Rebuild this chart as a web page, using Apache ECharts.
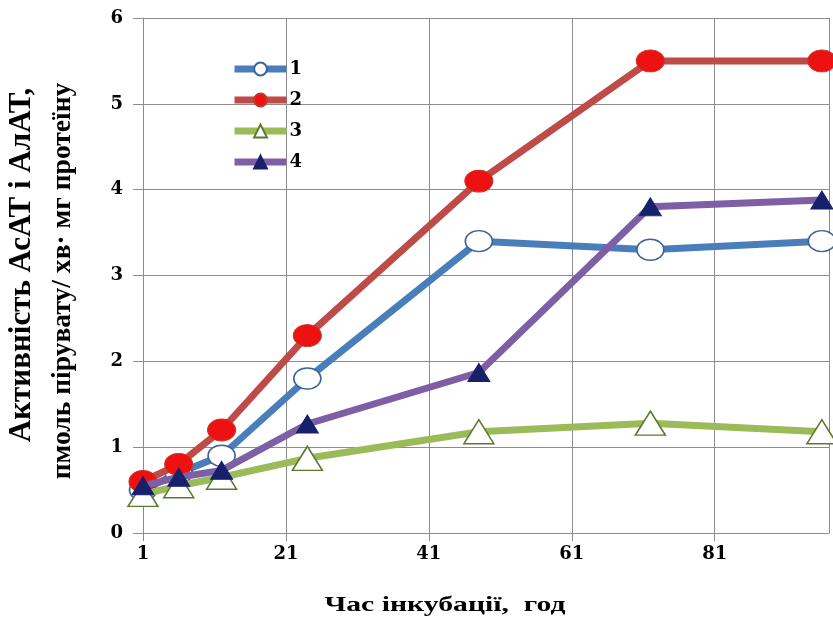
<!DOCTYPE html>
<html>
<head>
<meta charset="utf-8">
<script src="https://cdn.jsdelivr.net/npm/echarts@6/dist/echarts.min.js"></script>
<style>html,body{margin:0;padding:0;background:#fff;}#c{width:833px;height:619px;}</style>
</head>
<body>
<div id="c"></div>
<script>
var hours = [1, 6, 12, 24, 48, 72, 96];
var series1 = [0.5, 0.7, 0.9, 1.8, 3.4, 3.3, 3.4];
var series2 = [0.6, 0.8, 1.2, 2.3, 4.1, 5.5, 5.5];
var series3 = [0.45, 0.55, 0.65, 0.87, 1.18, 1.28, 1.18];
var series4 = [0.55, 0.65, 0.73, 1.27, 1.87, 3.8, 3.88];
var seriesNames = ['1', '2', '3', '4'];
var xTitle = 'Час інкубації,  год';
var yTitle1 = 'Активність АсАТ і АлАТ,';
var yTitle2 = 'пмоль пірувату/ хв· мг протеїну';

function pairs(ys) { return hours.map(function (h, i) { return [h, ys[i]]; }); }

var chart = echarts.init(document.getElementById('c'), null, {renderer: 'canvas'});
var serif = "'DejaVu Serif', 'Liberation Serif', serif";
var grid = '#8c8c8c';

chart.setOption({
  animation: false,
  backgroundColor: '#fff',
  grid: {left: 143, right: 4, top: 18, bottom: 86},
  legend: {
    orient: 'vertical', left: 231, top: 60, padding: 0,
    itemWidth: 52, itemHeight: 16, itemGap: 13,
    textStyle: {fontFamily: serif, fontWeight: 'bold', fontSize: 18, color: '#000', padding: [0, 0, 0, -2]},
    lineStyle: {width: 7},
    data: seriesNames
  },
  xAxis: {
    type: 'value', min: 1, max: 97, interval: 20,
    axisLine: {show: true, lineStyle: {color: grid, width: 1}},
    axisTick: {show: true, length: 8, lineStyle: {color: grid}},
    splitLine: {show: true, lineStyle: {color: grid, width: 1}},
    axisLabel: {showMaxLabel: false, margin: 12, fontFamily: serif, fontWeight: 'bold', fontSize: 18, color: '#000'}
  },
  yAxis: {
    type: 'value', min: 0, max: 6, interval: 1,
    axisLine: {show: true, lineStyle: {color: grid, width: 1}},
    axisTick: {show: true, length: 10, lineStyle: {color: grid}},
    splitLine: {show: true, lineStyle: {color: grid, width: 1}},
    axisLabel: {margin: 20, fontFamily: serif, fontWeight: 'bold', fontSize: 18, color: '#000'}
  },
  graphic: [
    {type: 'text', x: 445, y: 605, scaleX: 1.35, silent: true,
     style: {text: xTitle, font: "bold 22px 'Liberation Serif'", fill: '#000', align: 'center', verticalAlign: 'middle'}},
    {type: 'text', x: 22, y: 265, rotation: Math.PI / 2, scaleX: 1.0, silent: true,
     style: {text: yTitle1, font: "bold 31px 'Liberation Serif'", fill: '#000', align: 'center', verticalAlign: 'middle'}},
    {type: 'text', x: 63, y: 281, rotation: Math.PI / 2, scaleX: 1.02, silent: true,
     style: {text: yTitle2, font: "bold 27px 'Liberation Serif'", fill: '#000', align: 'center', verticalAlign: 'middle'}}
  ],
  series: [
    {name: seriesNames[0], type: 'line', data: pairs(series1), z: 2,
     symbol: 'circle', symbolSize: [27, 21],
     lineStyle: {color: '#4a7ebb', width: 7},
     itemStyle: {color: '#ffffff', borderColor: '#3b659a', borderWidth: 1.5}},
    {name: seriesNames[1], type: 'line', data: pairs(series2), z: 3,
     symbol: 'circle', symbolSize: [28, 22],
     lineStyle: {color: '#be4b48', width: 7},
     itemStyle: {color: '#ee1111', borderColor: '#c0392b', borderWidth: 1}},
    {name: seriesNames[2], type: 'line', data: pairs(series3), z: 4,
     symbol: 'triangle', symbolSize: [30, 24],
     lineStyle: {color: '#9bbb59', width: 7},
     itemStyle: {color: '#ffffff', borderColor: '#5a7a2e', borderWidth: 1.5}},
    {name: seriesNames[3], type: 'line', data: pairs(series4), z: 5,
     symbol: 'triangle', symbolSize: [22, 18],
     lineStyle: {color: '#7e5fa6', width: 7},
     itemStyle: {color: '#17206b', borderColor: '#17206b', borderWidth: 1}}
  ]
});
</script>
</body>
</html>
